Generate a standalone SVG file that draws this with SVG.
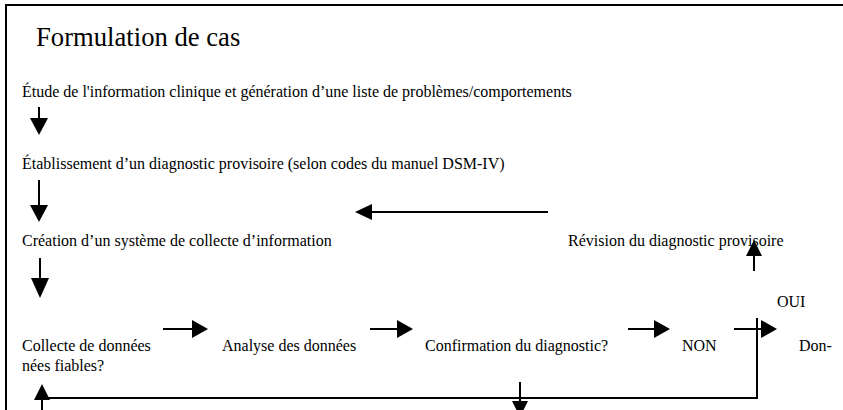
<svg xmlns="http://www.w3.org/2000/svg" width="843" height="410" viewBox="0 0 843 410">
<defs>
<style>
text{font-family:'Liberation Serif','Times New Roman',serif;fill:#000;font-size:16px}
text.title{font-size:26.67px}
.ln{stroke:#000;stroke-width:2;fill:none}
.hd{fill:#000;stroke:none}
</style>
</defs>
<rect width="843" height="410" fill="#fff"/>
<path d="M6,412 V5 H845" class="ln"/>
<g id="title"><text class="title" x="36" y="46">Formulation de cas</text></g>
<g id="n1"><text x="22" y="97">Étude de l'information clinique et génération d’une liste de problèmes/comportements</text></g>
<g id="n2"><text x="22" y="169">Établissement d’un diagnostic provisoire (selon codes du manuel DSM-IV)</text></g>
<g id="n3"><text x="22" y="246">Création d’un système de collecte d’information</text></g>
<g id="n4"><text x="568" y="246">Révision du diagnostic provisoire</text></g>
<g id="n5"><text x="22" y="351">Collecte de données</text><text x="22" y="371">nées fiables?</text></g>
<g id="n6"><text x="222" y="351">Analyse des données</text></g>
<g id="n7"><text x="425" y="351">Confirmation du diagnostic?</text></g>
<g id="n8"><text x="682" y="351">NON</text></g>
<g id="n9"><text x="777" y="307">OUI</text></g>
<g id="n10"><text x="799" y="351">Don-</text></g>
<g id="connectors">
<path class="ln" d="M39,107 V119"/><path class="hd" d="M30,118 H48 L39,135 Z"/>
<path class="ln" d="M39,180 V206"/><path class="hd" d="M30,205 H48 L39,222 Z"/>
<path class="ln" d="M548,212 H371"/><path class="hd" d="M372,204 V220 L355,212 Z"/>
<path class="ln" d="M40,258 V279"/><path class="hd" d="M31,278 H49 L40,298 Z"/>
<path class="ln" d="M754,271 V255"/><path class="hd" d="M746,256 H762 L754,240 Z"/>
<path class="ln" d="M163,329 H193"/><path class="hd" d="M192,320 V338 L208,329 Z"/>
<path class="ln" d="M370,329 H398"/><path class="hd" d="M397,320 V338 L413,329 Z"/>
<path class="ln" d="M628,329 H655"/><path class="hd" d="M654,320 V338 L670,329 Z"/>
<path class="ln" d="M734,329 H762"/><path class="hd" d="M761,320 V338 L777,329 Z"/>
<path class="ln" d="M757,318 V398 H48"/>
<path class="ln" d="M42,399 V410"/><path class="hd" d="M34,400 H50 L42,384 Z"/>
<path class="ln" d="M520,382 V402"/><path class="hd" d="M512,401 H528 L520,417 Z"/>
</g>
</svg>
